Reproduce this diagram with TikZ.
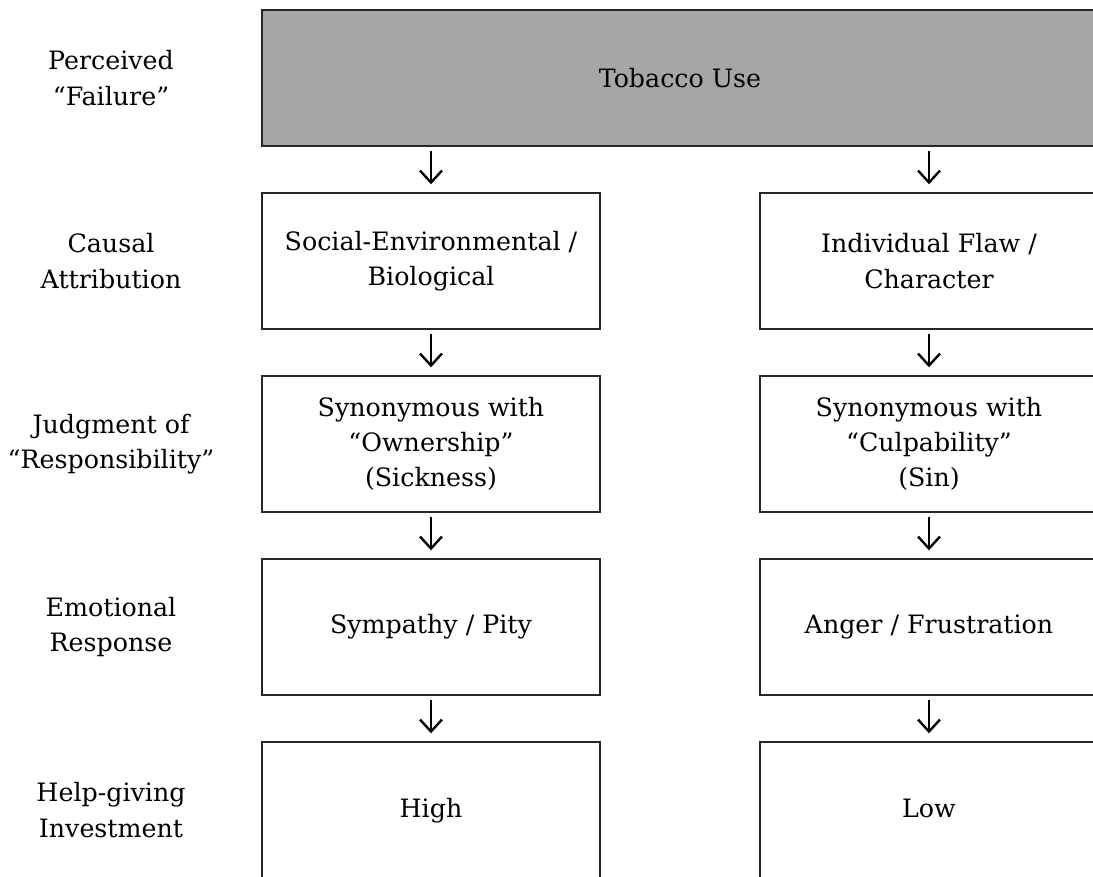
\documentclass[tikz,border=0pt]{standalone}
\usepackage{fontspec}
\setmainfont{DejaVu Serif}
\usetikzlibrary{arrows.meta}
\definecolor{usegray}{HTML}{A6A6A6}
\tikzset{
  stage/.style={draw=black!85, line width=1pt, minimum width=8.45cm, minimum height=3.4cm, align=center, inner sep=0pt},
  rowlabel/.style={align=center},
  flow/.style={line width=1.7pt, -{Straight Barb[length=3mm,width=5.5mm,line width=1.7pt]}, shorten <=0.1cm, shorten >=0.2cm}
}

\begin{document}
\begin{tikzpicture}[font=\fontsize{18}{25}\selectfont]
    % Define box size
    \def\pitch{4.575}
    \def\leftx{10.775}
    \def\rightx{23.225}
    \def\labelx{2.775}

    \useasboundingbox (0,0) rectangle (27.325,-21.9);
    \clip (0,0) rectangle (27.325,-21.9);

    % Perceived failure
    \node[rowlabel] (lab0) at (\labelx,-1.95) {Perceived\\“Failure”};
    \node[stage, fill=usegray, minimum width=20.9cm] (use) at (17.0,-1.95) {Tobacco Use};

    % Rows of the two paths
    \foreach \i/\nm/\lab/\ltxt/\rtxt in {
        1/cause/{Causal\\Attribution}/{Social-Environmental /\\Biological}/{Individual Flaw /\\Character},
        2/judge/{Judgment of\\“Responsibility”}/{Synonymous with\\“Ownership”\\(Sickness)}/{Synonymous with\\“Culpability”\\(Sin)},
        3/emot/{Emotional\\Response}/{Sympathy / Pity}/{Anger / Frustration},
        4/help/{Help-giving\\Investment}/{\strut High}/{\strut Low}} {
        \node[rowlabel] (lab\i) at (\labelx,{-1.95-\i*\pitch}) {\lab};
        \node[stage] (\nm L) at (\leftx,{-1.95-\i*\pitch}) {\ltxt};
        \node[stage] (\nm R) at (\rightx,{-1.95-\i*\pitch}) {\rtxt};
    }

    % Arrows
    \draw[flow] (use.south -| causeL) -- (causeL.north);
    \draw[flow] (use.south -| causeR) -- (causeR.north);
    \foreach \a/\b in {cause/judge, judge/emot, emot/help} {
        \draw[flow] (\a L) -- (\b L);
        \draw[flow] (\a R) -- (\b R);
    }
\end{tikzpicture}
\end{document}
